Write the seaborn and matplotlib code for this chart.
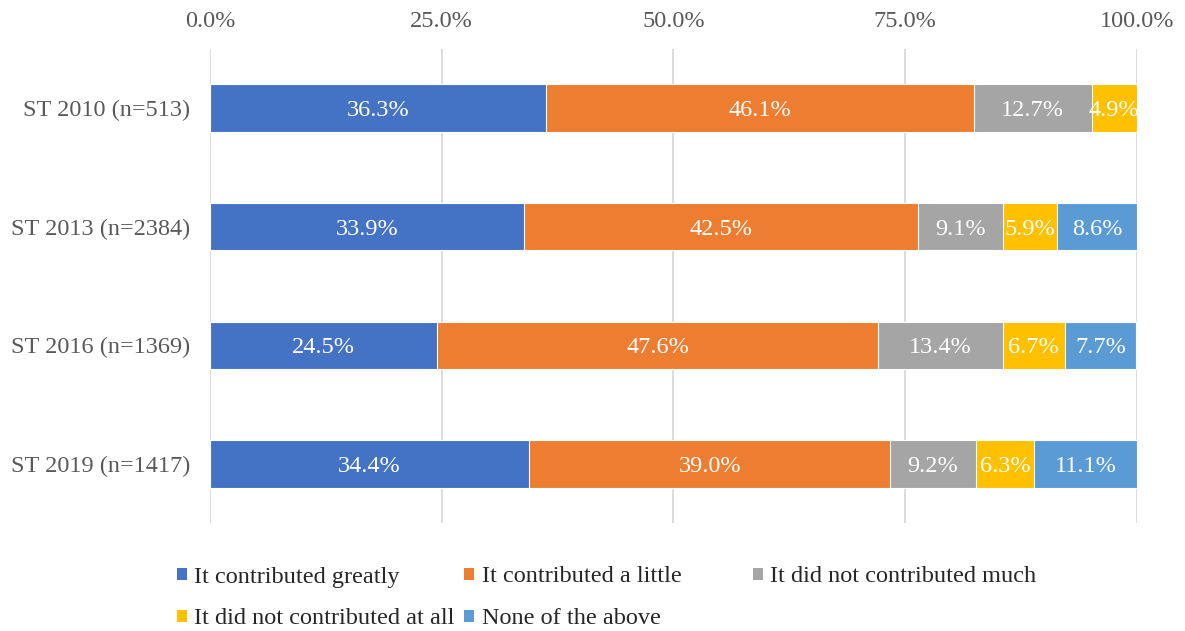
import numpy as np
import pandas as pd
import matplotlib
matplotlib.use("Agg")
import matplotlib.pyplot as plt
from matplotlib.patches import Patch
import seaborn as sns

# Survey waves (rows, top to bottom)
waves = ["ST 2010 (n=513)", "ST 2013 (n=2384)", "ST 2016 (n=1369)", "ST 2019 (n=1417)"]

# Response categories (stack order, left to right)
responses = [
    "It contributed greatly",
    "It contributed a little",
    "It did not contributed much",
    "It did not contributed at all",
    "None of the above",
]

# Share of respondents (%) per response, one list per category across waves
greatly = [36.3, 33.9, 24.5, 34.4]
a_little = [46.1, 42.5, 47.6, 39.0]
not_much = [12.7, 9.1, 13.4, 9.2]
not_at_all = [4.9, 5.9, 6.7, 6.3]
none_above = [0.0, 8.6, 7.7, 11.1]

colors = ["#4472C4", "#ED7D31", "#A5A5A5", "#FFC000", "#5B9BD5"]

xticks = [0, 25, 50, 75, 100]

FS = 17.5

sns.set_theme(style="white")
plt.rcParams["font.family"] = ["Liberation Serif", "DejaVu Serif"]

values = np.array([greatly, a_little, not_much, not_at_all, none_above])
cum = np.cumsum(values, axis=0)

fig = plt.figure(figsize=(11.85, 6.31), dpi=100)
ax = fig.add_axes([0.1772, 0.1704, 0.7823, 0.7527])

# Draw cumulative totals from the outermost segment inwards so each
# stacked segment shows on top of the previous one.
for i in reversed(range(len(responses))):
    df = pd.DataFrame({"wave": waves, "total": cum[i]})
    sns.barplot(data=df, x="total", y="wave", orient="h", color=colors[i],
                saturation=1, width=0.4, edgecolor="white", linewidth=0.8,
                ax=ax, zorder=3)

# Value labels centred inside each segment
for i in range(len(responses)):
    for j in range(len(waves)):
        v = values[i, j]
        if v <= 0:
            continue
        center = cum[i, j] - v / 2
        ax.text(center, j, f"{v:.1f}%", ha="center", va="center_baseline",
                color="white", fontsize=FS, zorder=5)

ax.set_xlim(0, 100)
ax.set_ylim(len(waves) - 0.5, -0.5)
ax.set_xticks(xticks)
ax.set_xticklabels([f"{t:.1f}%" for t in xticks])
ax.xaxis.tick_top()
ax.tick_params(axis="x", length=0, pad=12, labelsize=FS, labelcolor="#595959")
ax.tick_params(axis="y", length=0, pad=14, labelsize=FS, labelcolor="#595959")
ax.set_xlabel("")
ax.set_ylabel("")
ax.grid(axis="x", color="#D9D9D9", linewidth=1.3, zorder=0)
ax.grid(axis="y", visible=False)
ax.set_axisbelow(True)
for s in ax.spines.values():
    s.set_visible(False)

# Legend laid out in fixed-width columns below the plot
legend_slots = [(177, 577), (464, 577), (753, 577), (177, 619), (464, 619)]
W, H = 1185, 631
for (px, py), label, c in zip(legend_slots, responses, colors):
    leg = fig.legend(handles=[Patch(facecolor=c, edgecolor="none")], labels=[label],
                     loc="center left", bbox_to_anchor=(px / W, 1 - py / H),
                     frameon=False, fontsize=FS, borderpad=0, borderaxespad=0,
                     handlelength=0.42, handleheight=0.42, handletextpad=0.3)
    for t in leg.get_texts():
        t.set_color("#262626")

fig.savefig("out.png", dpi=100)
